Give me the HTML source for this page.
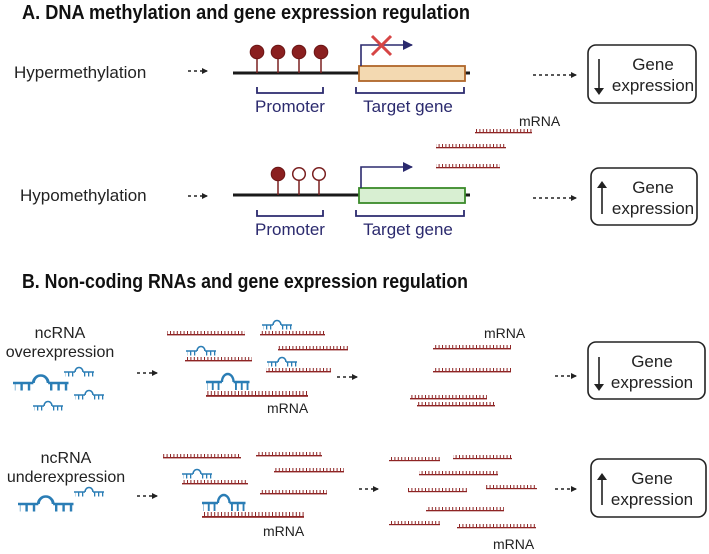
<!DOCTYPE html>
<html><head><meta charset="utf-8"><style>
html,body{margin:0;padding:0;background:#fff}
svg{display:block;font-family:"Liberation Sans",sans-serif}
</style></head><body>
<svg width="709" height="554" viewBox="0 0 709 554" xmlns="http://www.w3.org/2000/svg">
<defs>
<pattern id="rt" width="3.4" height="10" patternUnits="userSpaceOnUse"><rect x="0" y="0" width="1" height="10" fill="#8e2424"/></pattern>
<pattern id="bt" width="4" height="10" patternUnits="userSpaceOnUse"><rect x="0" y="0" width="1.3" height="10" fill="#2a7db5"/></pattern>
<marker id="ah" markerWidth="6" markerHeight="6" refX="5" refY="3" orient="auto" markerUnits="userSpaceOnUse"><path d="M0,0 L6,3 L0,6 z" fill="#222"/></marker>
<marker id="nh" markerWidth="10" markerHeight="10" refX="9" refY="5" orient="auto" markerUnits="userSpaceOnUse"><path d="M0,0 L10,5 L0,10 z" fill="#2b2a6e"/></marker>
<!-- red strand: width 100, base at y=0 -->
<g id="hp">
<path d="M0,0 H11 M19,0 H30" stroke="#2a7db5" stroke-width="1.6"/>
<path d="M11,0 A4,5 0 0 1 19,0" fill="none" stroke="#2a7db5" stroke-width="1.6"/>
<rect x="1" y="0" width="10" height="5" fill="url(#bt)"/>
<rect x="19.5" y="0" width="10" height="5" fill="url(#bt)"/>
</g>
</defs>

<!-- Titles -->
<text x="22" y="19" font-size="20" font-weight="bold" fill="#111" textLength="448" lengthAdjust="spacingAndGlyphs">A. DNA methylation and gene expression regulation</text>
<text x="22" y="288" font-size="20" font-weight="bold" fill="#111" textLength="446" lengthAdjust="spacingAndGlyphs">B. Non-coding RNAs and gene expression regulation</text>

<!-- Row A1 -->
<text x="14" y="78" font-size="17" fill="#222">Hypermethylation</text>
<line x1="188" y1="71" x2="207" y2="71" stroke="#222" stroke-width="1.5" stroke-dasharray="3,3" marker-end="url(#ah)"/>
<line x1="233" y1="73" x2="470" y2="73" stroke="#1a1a1a" stroke-width="3"/>
<g stroke="#7a2020" stroke-width="1.5"><line x1="257" y1="52" x2="257" y2="73"/><line x1="278" y1="52" x2="278" y2="73"/><line x1="299" y1="52" x2="299" y2="73"/><line x1="321" y1="52" x2="321" y2="73"/></g>
<g fill="#8a1f1f" stroke="#6a1515" stroke-width="1"><circle cx="257" cy="52" r="6.8"/><circle cx="278" cy="52" r="6.8"/><circle cx="299" cy="52" r="6.8"/><circle cx="321" cy="52" r="6.8"/></g>
<rect x="359" y="66" width="106" height="15" fill="#f3d9b1" stroke="#b0662a" stroke-width="1.8"/>
<path d="M361,66 V45 H412" fill="none" stroke="#2b2a6e" stroke-width="1.6" marker-end="url(#nh)"/>
<path d="M372,36 L391,55 M391,36 L372,55" stroke="#d64545" stroke-width="3"/>
<path d="M257,87 V93 H323 V87 M356,87 V93 H464 V87" fill="none" stroke="#2b2a6e" stroke-width="1.8"/>
<text x="290" y="112" font-size="17" fill="#2b2a6e" text-anchor="middle">Promoter</text>
<text x="408" y="112" font-size="17" fill="#2b2a6e" text-anchor="middle">Target gene</text>
<line x1="533" y1="75" x2="576" y2="75" stroke="#222" stroke-width="1.5" stroke-dasharray="3,3" marker-end="url(#ah)"/>
<rect x="588" y="45" width="108" height="58" rx="8" fill="#fff" stroke="#222" stroke-width="1.6"/>
<line x1="599" y1="59" x2="599" y2="90" stroke="#222" stroke-width="1.6"/><path d="M594,88 L604,88 L599,95 z" fill="#222"/>
<text x="653" y="70" font-size="17" fill="#222" text-anchor="middle">Gene</text>
<text x="653" y="91" font-size="17" fill="#222" text-anchor="middle">expression</text>

<!-- mRNA between -->
<text x="519" y="126" font-size="14" fill="#222">mRNA</text>
<rect x="475" y="129" width="57" height="4" fill="url(#rt)"/><rect x="475" y="132" width="57" height="1.3" fill="#8e2424"/>
<rect x="436" y="144" width="70" height="4" fill="url(#rt)"/><rect x="436" y="147" width="70" height="1.3" fill="#8e2424"/>
<rect x="436" y="164" width="64" height="4" fill="url(#rt)"/><rect x="436" y="167" width="64" height="1.3" fill="#8e2424"/>

<!-- Row A2 -->
<text x="20" y="201" font-size="17" fill="#222">Hypomethylation</text>
<line x1="188" y1="196" x2="207" y2="196" stroke="#222" stroke-width="1.5" stroke-dasharray="3,3" marker-end="url(#ah)"/>
<line x1="233" y1="195" x2="470" y2="195" stroke="#1a1a1a" stroke-width="3"/>
<g stroke="#7a2020" stroke-width="1.5"><line x1="278" y1="174" x2="278" y2="195"/><line x1="299" y1="174" x2="299" y2="195"/><line x1="319" y1="174" x2="319" y2="195"/></g>
<circle cx="278" cy="174" r="6.8" fill="#8a1f1f" stroke="#6a1515"/>
<circle cx="299" cy="174" r="6.3" fill="#fff" stroke="#7a2020" stroke-width="1.5"/>
<circle cx="319" cy="174" r="6.3" fill="#fff" stroke="#7a2020" stroke-width="1.5"/>
<rect x="359" y="188" width="106" height="15" fill="#d8efd2" stroke="#3a8a2a" stroke-width="1.8"/>
<path d="M361,188 V167 H412" fill="none" stroke="#2b2a6e" stroke-width="1.6" marker-end="url(#nh)"/>
<path d="M257,210 V216 H323 V210 M356,210 V216 H464 V210" fill="none" stroke="#2b2a6e" stroke-width="1.8"/>
<text x="290" y="235" font-size="17" fill="#2b2a6e" text-anchor="middle">Promoter</text>
<text x="408" y="235" font-size="17" fill="#2b2a6e" text-anchor="middle">Target gene</text>
<line x1="533" y1="198" x2="576" y2="198" stroke="#222" stroke-width="1.5" stroke-dasharray="3,3" marker-end="url(#ah)"/>
<rect x="591" y="168" width="106" height="57" rx="8" fill="#fff" stroke="#222" stroke-width="1.6"/>
<line x1="602" y1="186" x2="602" y2="214" stroke="#222" stroke-width="1.6"/><path d="M597,188 L607,188 L602,181 z" fill="#222"/>
<text x="653" y="193" font-size="17" fill="#222" text-anchor="middle">Gene</text>
<text x="653" y="214" font-size="17" fill="#222" text-anchor="middle">expression</text>

<!-- Row B1 -->
<text x="60" y="338" font-size="16" fill="#222" text-anchor="middle">ncRNA</text>
<text x="60" y="357" font-size="16" fill="#222" text-anchor="middle">overexpression</text>
<use href="#hp" transform="translate(13,383) scale(1.85,1.5)"/>
<use href="#hp" transform="translate(64,372) scale(1,0.9)"/>
<use href="#hp" transform="translate(74,395) scale(1,0.9)"/>
<use href="#hp" transform="translate(33,406) scale(1,0.9)"/>
<line x1="137" y1="373" x2="157" y2="373" stroke="#222" stroke-width="1.5" stroke-dasharray="3,3" marker-end="url(#ah)"/>

<g id="rs">
<rect x="167" y="331" width="78" height="4" fill="url(#rt)"/><rect x="167" y="334" width="78" height="1.4" fill="#8e2424"/>
<rect x="260" y="331" width="65" height="4" fill="url(#rt)"/><rect x="260" y="334" width="65" height="1.4" fill="#8e2424"/>
<rect x="278" y="346" width="70" height="4" fill="url(#rt)"/><rect x="278" y="349" width="70" height="1.4" fill="#8e2424"/>
<rect x="185" y="357" width="67" height="4" fill="url(#rt)"/><rect x="185" y="360" width="67" height="1.4" fill="#8e2424"/>
<rect x="266" y="368" width="65" height="4" fill="url(#rt)"/><rect x="266" y="371" width="65" height="1.4" fill="#8e2424"/>
<rect x="206" y="391" width="102" height="5" fill="url(#rt)"/><rect x="206" y="395" width="102" height="1.8" fill="#8e2424"/>
</g>
<use href="#hp" transform="translate(262,325) scale(1,0.9)"/>
<use href="#hp" transform="translate(186,351) scale(1,0.9)"/>
<use href="#hp" transform="translate(267,362) scale(1,0.9)"/>
<use href="#hp" transform="translate(206,382) scale(1.45,1.6)"/>
<text x="267" y="413" font-size="14" fill="#222">mRNA</text>

<line x1="337" y1="377" x2="357" y2="377" stroke="#222" stroke-width="1.5" stroke-dasharray="3,3" marker-end="url(#ah)"/>
<text x="484" y="338" font-size="14" fill="#222">mRNA</text>
<rect x="433" y="345" width="78" height="4" fill="url(#rt)"/><rect x="433" y="348" width="78" height="1.4" fill="#8e2424"/>
<rect x="433" y="368" width="78" height="4" fill="url(#rt)"/><rect x="433" y="371" width="78" height="1.4" fill="#8e2424"/>
<rect x="410" y="395" width="77" height="4" fill="url(#rt)"/><rect x="410" y="398" width="77" height="1.4" fill="#8e2424"/>
<rect x="417" y="402" width="78" height="4" fill="url(#rt)"/><rect x="417" y="405" width="78" height="1.4" fill="#8e2424"/>
<line x1="555" y1="376" x2="576" y2="376" stroke="#222" stroke-width="1.5" stroke-dasharray="3,3" marker-end="url(#ah)"/>
<rect x="588" y="342" width="117" height="57" rx="8" fill="#fff" stroke="#222" stroke-width="1.6"/>
<line x1="599" y1="357" x2="599" y2="386" stroke="#222" stroke-width="1.6"/><path d="M594,384 L604,384 L599,391 z" fill="#222"/>
<text x="652" y="367" font-size="17" fill="#222" text-anchor="middle">Gene</text>
<text x="652" y="388" font-size="17" fill="#222" text-anchor="middle">expression</text>

<!-- Row B2 -->
<text x="66" y="463" font-size="16" fill="#222" text-anchor="middle">ncRNA</text>
<text x="66" y="482" font-size="16" fill="#222" text-anchor="middle">underexpression</text>
<use href="#hp" transform="translate(18,504) scale(1.85,1.5)"/>
<use href="#hp" transform="translate(74,492) scale(1,0.9)"/>
<line x1="137" y1="496" x2="157" y2="496" stroke="#222" stroke-width="1.5" stroke-dasharray="3,3" marker-end="url(#ah)"/>
<rect x="163" y="454" width="78" height="4" fill="url(#rt)"/><rect x="163" y="457" width="78" height="1.4" fill="#8e2424"/>
<rect x="256" y="452" width="66" height="4" fill="url(#rt)"/><rect x="256" y="455" width="66" height="1.4" fill="#8e2424"/>
<rect x="274" y="468" width="70" height="4" fill="url(#rt)"/><rect x="274" y="471" width="70" height="1.4" fill="#8e2424"/>
<rect x="182" y="480" width="66" height="4" fill="url(#rt)"/><rect x="182" y="483" width="66" height="1.4" fill="#8e2424"/>
<rect x="260" y="490" width="67" height="4" fill="url(#rt)"/><rect x="260" y="493" width="67" height="1.4" fill="#8e2424"/>
<rect x="202" y="512" width="102" height="5" fill="url(#rt)"/><rect x="202" y="516" width="102" height="1.8" fill="#8e2424"/>
<use href="#hp" transform="translate(182,474) scale(1,0.9)"/>
<use href="#hp" transform="translate(202,503) scale(1.45,1.6)"/>
<text x="263" y="536" font-size="14" fill="#222">mRNA</text>

<line x1="359" y1="489" x2="378" y2="489" stroke="#222" stroke-width="1.5" stroke-dasharray="3,3" marker-end="url(#ah)"/>
<g fill="#8e2424">
<rect x="389" y="457" width="51" height="3" fill="url(#rt)"/><rect x="389" y="460" width="51" height="1.2"/>
<rect x="453" y="455" width="59" height="3" fill="url(#rt)"/><rect x="453" y="458" width="59" height="1.2"/>
<rect x="419" y="471" width="79" height="4" fill="url(#rt)"/><rect x="419" y="474" width="79" height="1.3"/>
<rect x="408" y="488" width="59" height="3" fill="url(#rt)"/><rect x="408" y="491" width="59" height="1.2"/>
<rect x="486" y="485" width="51" height="3" fill="url(#rt)"/><rect x="486" y="488" width="51" height="1.2"/>
<rect x="426" y="507" width="78" height="4" fill="url(#rt)"/><rect x="426" y="510" width="78" height="1.3"/>
<rect x="389" y="521" width="51" height="3" fill="url(#rt)"/><rect x="389" y="524" width="51" height="1.2"/>
<rect x="457" y="524" width="79" height="4" fill="url(#rt)"/><rect x="457" y="527" width="79" height="1.3"/>
</g>
<text x="493" y="549" font-size="14" fill="#222">mRNA</text>
<line x1="555" y1="489" x2="576" y2="489" stroke="#222" stroke-width="1.5" stroke-dasharray="3,3" marker-end="url(#ah)"/>
<rect x="591" y="459" width="115" height="58" rx="8" fill="#fff" stroke="#222" stroke-width="1.6"/>
<line x1="602" y1="478" x2="602" y2="505" stroke="#222" stroke-width="1.6"/><path d="M597,480 L607,480 L602,473 z" fill="#222"/>
<text x="652" y="484" font-size="17" fill="#222" text-anchor="middle">Gene</text>
<text x="652" y="505" font-size="17" fill="#222" text-anchor="middle">expression</text>
</svg>
</body></html>
